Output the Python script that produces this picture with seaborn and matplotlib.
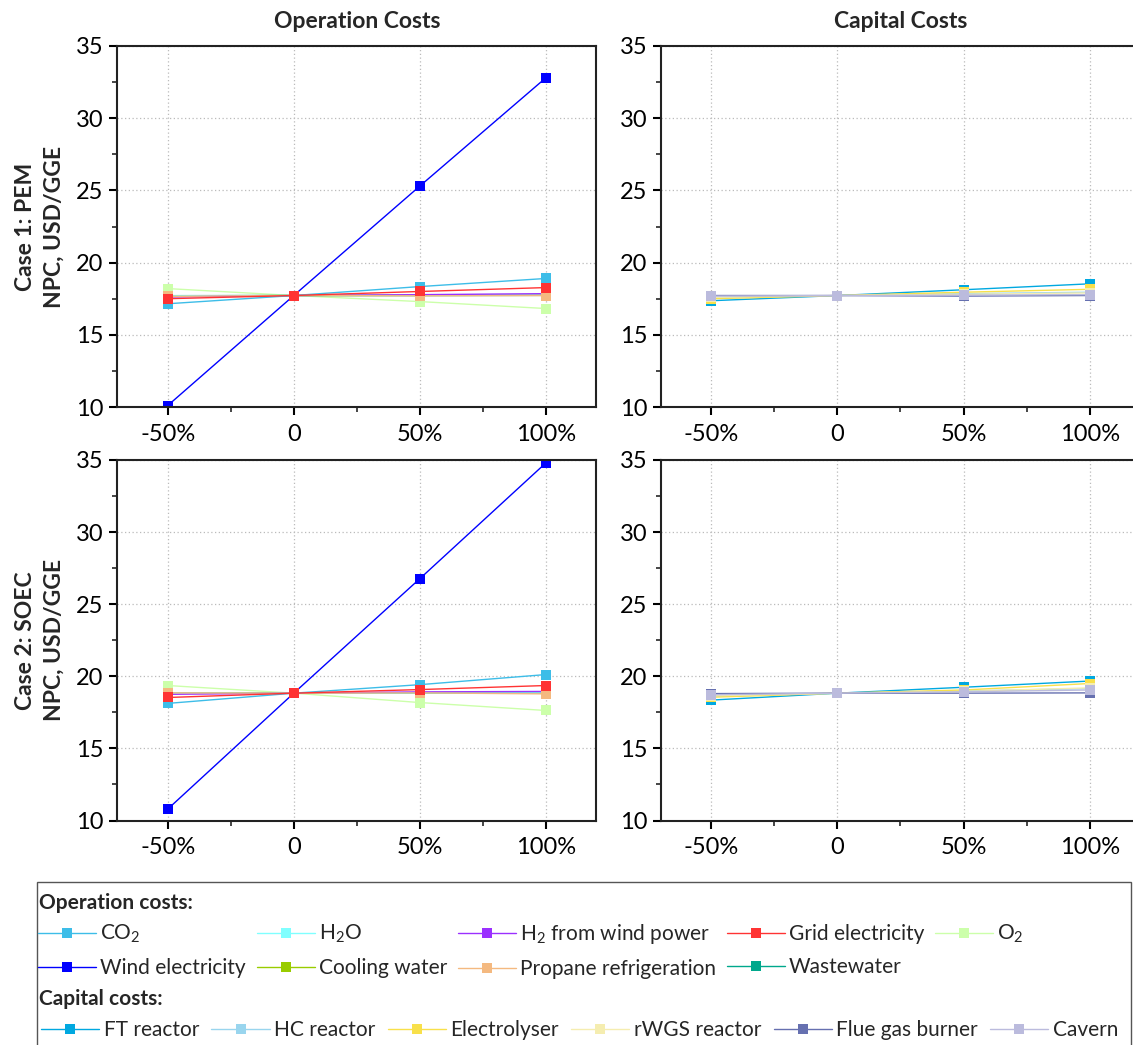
import matplotlib
matplotlib.use("Agg")
import matplotlib.pyplot as plt
from matplotlib.lines import Line2D
from matplotlib.patches import Rectangle
from matplotlib.ticker import MultipleLocator
import numpy as np
import pandas as pd
import seaborn as sns

sns.set_theme(style="white")
plt.rcParams["font.family"] = ["Lato", "DejaVu Sans"]
plt.rcParams["mathtext.fontset"] = "custom"
plt.rcParams["mathtext.rm"] = "Lato"
plt.rcParams["mathtext.default"] = "rm"

# Parameter change relative to the base case (%)
changes = [-50, 0, 50, 100]
change_labels = ["-50%", "0", "50%", "100%"]

# Operation cost items (legend order)
op_items = ["CO$_2$", "H$_2$O", "H$_2$ from wind power", "Grid electricity", "O$_2$",
            "Wind electricity", "Cooling water", "Propane refrigeration", "Wastewater"]
op_colors = ["#3DBDE8", "#80FFFF", "#9B30FF", "#FF3333", "#CCFFAA",
             "#0000FF", "#99CC00", "#F4B980", "#00A88C"]
# Drawing order (last on top)
op_draw_order = ["Wind electricity", "O$_2$", "Cooling water", "Wastewater", "H$_2$O",
                 "H$_2$ from wind power", "Propane refrigeration", "CO$_2$", "Grid electricity"]

# Capital cost items
cap_items = ["FT reactor", "HC reactor", "Electrolyser", "rWGS reactor", "Flue gas burner", "Cavern"]
cap_colors = ["#00A8E0", "#99D5EE", "#F8E04A", "#F5EDB0", "#6670B0", "#BBBBDD"]

# Case 1: PEM - NPC (USD/GGE), operation cost sensitivity
pem_op = {
    "CO$_2$":                 [17.15, 17.72, 18.34, 18.90],
    "H$_2$O":                 [17.70, 17.72, 17.73, 17.74],
    "H$_2$ from wind power":  [17.62, 17.72, 17.78, 17.85],
    "Grid electricity":       [17.50, 17.72, 18.00, 18.27],
    "O$_2$":                  [18.20, 17.72, 17.30, 16.82],
    "Wind electricity":       [10.10, 17.72, 25.30, 32.80],
    "Cooling water":          [17.70, 17.72, 17.73, 17.74],
    "Propane refrigeration":  [17.66, 17.72, 17.70, 17.72],
    "Wastewater":             [17.71, 17.72, 17.72, 17.73],
}
# Case 1: PEM - capital cost sensitivity
pem_cap = {
    "FT reactor":      [17.36, 17.72, 18.12, 18.53],
    "HC reactor":      [17.55, 17.72, 17.85, 17.95],
    "Electrolyser":    [17.50, 17.72, 17.95, 18.15],
    "rWGS reactor":    [17.60, 17.72, 17.80, 17.90],
    "Flue gas burner": [17.72, 17.72, 17.68, 17.72],
    "Cavern":          [17.68, 17.72, 17.75, 17.78],
}
# Case 2: SOEC - operation cost sensitivity
soec_op = {
    "CO$_2$":                 [18.12, 18.83, 19.42, 20.12],
    "H$_2$O":                 [18.82, 18.83, 18.84, 18.85],
    "H$_2$ from wind power":  [18.75, 18.83, 18.92, 18.95],
    "Grid electricity":       [18.53, 18.83, 19.08, 19.36],
    "O$_2$":                  [19.36, 18.83, 18.18, 17.63],
    "Wind electricity":       [10.79, 18.83, 26.77, 34.80],
    "Cooling water":          [18.82, 18.83, 18.84, 18.85],
    "Propane refrigeration":  [18.85, 18.83, 18.85, 18.78],
    "Wastewater":             [18.82, 18.83, 18.83, 18.84],
}
# Case 2: SOEC - capital cost sensitivity
soec_cap = {
    "FT reactor":      [18.35, 18.83, 19.24, 19.67],
    "HC reactor":      [18.60, 18.83, 18.98, 19.15],
    "Electrolyser":    [18.55, 18.83, 19.05, 19.50],
    "rWGS reactor":    [18.65, 18.83, 18.95, 19.20],
    "Flue gas burner": [18.80, 18.83, 18.83, 18.85],
    "Cavern":          [18.72, 18.83, 18.93, 19.05],
}

column_titles = ["Operation Costs", "Capital Costs"]
row_labels = ["Case 1: PEM\nNPC, USD/GGE", "Case 2: SOEC\nNPC, USD/GGE"]


def to_long(table, order):
    rows = []
    for item in order:
        for c, v in zip(changes, table[item]):
            rows.append({"item": item, "change": c, "npc": v})
    return pd.DataFrame(rows)


W, H = 1133, 1045
fig = plt.figure(figsize=(W / 100, H / 100), dpi=100)

ax_w = 479 / W
lefts = [117.3 / W, 661 / W]
bottoms = [1 - 407 / H, 1 - 820.5 / H]
heights = [361 / H, 360.5 / H]

panels = [[(pem_op, "op"), (pem_cap, "cap")], [(soec_op, "op"), (soec_cap, "cap")]]
op_pal = dict(zip(op_items, op_colors))
cap_pal = dict(zip(cap_items, cap_colors))

for r in range(2):
    for c in range(2):
        ax = fig.add_axes([lefts[c], bottoms[r], ax_w, heights[r]])
        table, kind = panels[r][c]
        if kind == "op":
            df = to_long(table, op_draw_order)
            pal, order = op_pal, op_draw_order
        else:
            df = to_long(table, cap_items)
            pal, order = cap_pal, cap_items
        for item in order:
            sns.lineplot(data=df[df["item"] == item], x="change", y="npc",
                         color=pal[item], marker="s", markersize=7.5,
                         markeredgewidth=0, linewidth=1.0, legend=False, ax=ax)
        ax.set_xlim(-70, 120)
        ax.set_ylim(10, 35)
        ax.set_xticks(changes)
        ax.set_xticklabels(change_labels)
        ax.xaxis.set_minor_locator(MultipleLocator(25))
        ax.yaxis.set_major_locator(MultipleLocator(5))
        ax.yaxis.set_minor_locator(MultipleLocator(2.5))
        ax.grid(True, which="major", color="#BBBBBB", linestyle=(0, (1, 2)), linewidth=0.9)
        ax.tick_params(axis="both", which="major", direction="out", length=6, width=1.5,
                       labelsize=17, left=True, bottom=True, pad=4, colors="black")
        ax.tick_params(axis="both", which="minor", direction="out", length=3.5, width=1.2,
                       left=True, bottom=True)
        ax.tick_params(axis="x", which="major", pad=6)
        for sp in ax.spines.values():
            sp.set_color("#222222")
            sp.set_linewidth(1.5)
            sp.set_visible(True)
        ax.set_xlabel("")
        if c == 0:
            ax.set_ylabel(row_labels[r], fontsize=16.5, fontweight="bold", linespacing=1.45)
            ax.yaxis.set_label_coords(-0.11, 0.5)
        else:
            ax.set_ylabel("")
        if r == 0:
            ax.set_title(column_titles[c], fontsize=16.5, fontweight="bold", pad=13)

# Legend box below the panels
box = Rectangle((36.5 / W, -0.01), (1131 - 36.5) / W, (1 - 882 / H) + 0.01,
                transform=fig.transFigure, fill=False, edgecolor="#555555", linewidth=1.0)
fig.add_artist(box)

fig.text(39 / W, 1 - 903 / H, "Operation costs:", fontsize=15, fontweight="bold",
         ha="left", va="center")
fig.text(39 / W, 1 - 999 / H, "Capital costs:", fontsize=15, fontweight="bold",
         ha="left", va="center")


def handle(color):
    return Line2D([], [], color=color, linewidth=1.0, marker="s", markersize=7,
                  markeredgewidth=0)


# Operation legend: two rows of five columns (filled column by column)
op_leg_order = ["CO$_2$", "Wind electricity", "H$_2$O", "Cooling water",
                "H$_2$ from wind power", "Propane refrigeration", "Grid electricity",
                "Wastewater", "O$_2$"]
leg1 = fig.legend([handle(op_pal[i]) for i in op_leg_order], op_leg_order,
                  loc="upper left", bbox_to_anchor=(38 / W, 1 - 922 / H), ncol=5,
                  frameon=False, fontsize=15, handlelength=2.8, handletextpad=0.2,
                  columnspacing=0.5, labelspacing=0.62, borderpad=0, borderaxespad=0)
leg2 = fig.legend([handle(cap_pal[i]) for i in cap_items], cap_items,
                  loc="upper left", bbox_to_anchor=(41 / W, 1 - 1020 / H), ncol=6,
                  frameon=False, fontsize=15, handlelength=2.8, handletextpad=0.2,
                  columnspacing=0.6, borderpad=0, borderaxespad=0)

fig.savefig("out.png", dpi=100)
